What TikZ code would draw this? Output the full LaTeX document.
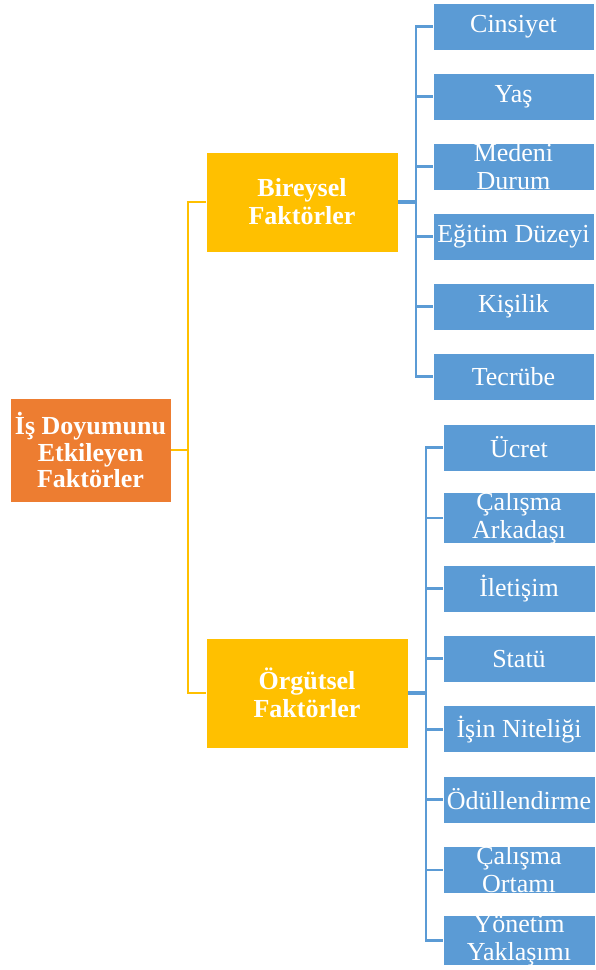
\documentclass[tikz,border=0pt]{standalone}
\usepackage{fontspec}
\setmainfont{Liberation Serif}
\definecolor{cOrange}{HTML}{ED7D31}
\definecolor{cYellow}{HTML}{FFC000}
\definecolor{cBlue}{HTML}{5B9BD5}
\begin{document}
\begin{tikzpicture}[x=1pt,y=-1pt,
  box/.style={draw=white, line width=0.6pt, text=white, align=center, inner sep=0pt},
  rootbox/.style={box, fill=cOrange, minimum width=161pt, minimum height=104pt, font=\fontsize{26}{26.5}\selectfont\bfseries},
  midbox/.style={box, fill=cYellow, font=\fontsize{26}{28}\selectfont\bfseries},
  leafbox/.style={box, fill=cBlue, minimum height=47pt, font=\fontsize{26}{28}\selectfont},
  yline/.style={cYellow, line width=2.6pt},
  bline/.style={cBlue, line width=2.8pt},
  stub/.style={cBlue, line width=4pt}]
\useasboundingbox (0,0) rectangle (596,970);
% root
\node[rootbox] (root) at (90.5,450) {İş Doyumunu\\Etkileyen\\Faktörler};
% middle
\node[midbox, minimum width=192pt, minimum height=100pt] (bir) at (302,202) {Bireysel\\Faktörler};
\node[midbox, minimum width=202pt, minimum height=110pt] (org) at (307,693) {Örgütsel\\Faktörler};
% top leaves
\foreach \i/\t in {0/Cinsiyet,1/Yaş,2/{Medeni\\Durum},3/Eğitim Düzeyi,4/Kişilik,5/Tecrübe}{
  \node[leafbox, minimum width=161pt] (t\i) at (513.5,{26.5+70*\i}) {\t};
}
% bottom leaves
\foreach \i/\t in {0/Ücret,1/{Çalışma\\Arkadaşı},2/İletişim,3/Statü,4/İşin Niteliği,5/Ödüllendirme,6/{Çalışma\\Ortamı},7/{Yönetim\\Yaklaşımı}}{
  \node[leafbox, minimum width=152pt] (b\i) at (519,{447.5+70.4*\i}) {\t};
}
% yellow connectors
\coordinate (yb) at (188,450);
\draw[yline] (root.east) -- (yb);
\draw[yline] (bir.west) -| (yb) |- (org.west);
% blue top connectors
\coordinate (tb) at (416,202);
\draw[stub] (bir.east) -- (tb);
\foreach \i in {0,...,5}{\draw[bline] (t\i.west) -| (tb);}
% blue bottom connectors
\coordinate (bb) at (426,693);
\draw[stub] (org.east) -- (bb);
\foreach \i in {0,...,7}{\draw[bline] (b\i.west) -| (bb);}
\end{tikzpicture}
\end{document}
